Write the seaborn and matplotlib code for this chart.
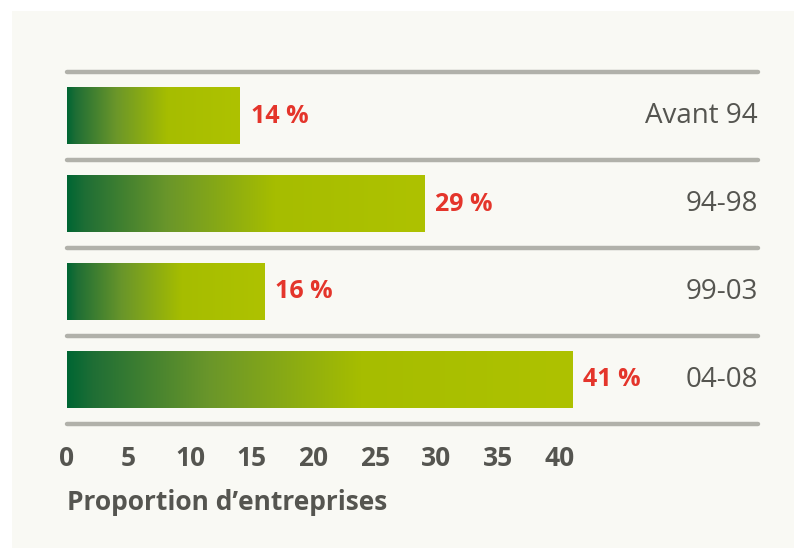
import numpy as np
import matplotlib.pyplot as plt
import seaborn as sns
from matplotlib.colors import LinearSegmentedColormap
from matplotlib.patches import Rectangle

# ---------------------------------------------------------------------------
# Data
# ---------------------------------------------------------------------------
periods = ["Avant 94", "94-98", "99-03", "04-08"]
shares = [14, 29, 16, 41]
x_ticks = [0, 5, 10, 15, 20, 25, 30, 35, 40]
x_label = "Proportion d’entreprises"

sns.set_theme(style="white")
plt.rcParams["font.family"] = ["Open Sans", "DejaVu Sans"]

panel_bg = "#f9f9f4"
rule_gray = "#b1b1aa"
text_gray = "#555550"
red = "#e4352b"

# green -> lime gradient used inside each bar
bar_cmap = LinearSegmentedColormap.from_list(
    "bar_grad",
    [(0.0, "#006633"), (0.05, "#1f6e35"), (0.28, "#6a962a"),
     (0.58, "#a6bd00"), (1.0, "#aec200")])

fig = plt.figure(figsize=(7.94, 5.48), dpi=100)
fig.patch.set_facecolor("white")
fig.patches.append(Rectangle((12 / 794, 0), 1, 537 / 548, transform=fig.transFigure,
                             facecolor=panel_bg, edgecolor="none", zorder=-10))

ax = fig.add_axes([67 / 794, 124 / 548, 691 / 794, 352 / 548])
ax.set_facecolor("none")

sns.barplot(x=shares, y=periods, orient="h", width=0.64, color="black", ax=ax)

# replace flat bars with a horizontal gradient
grad = np.linspace(0, 1, 256).reshape(1, -1)
for patch in ax.patches:
    x0, y0 = patch.get_x(), patch.get_y()
    w, h = patch.get_width(), patch.get_height()
    ax.imshow(grad, cmap=bar_cmap, aspect="auto", extent=[x0, x0 + w, y0 + h, y0],
              zorder=2, interpolation="bicubic")
    patch.set_visible(False)

ax.set_xlim(0, 56.1)
ax.set_ylim(len(periods) - 0.5, -0.5)

# grey rules between rows
for yy in np.arange(-0.5, len(periods)):
    ax.axhline(yy, color=rule_gray, lw=3.2, zorder=1, clip_on=False)

# value labels and period labels
for i, (p, v) in enumerate(zip(periods, shares)):
    ax.text(v + 0.9, i, f"{v} %", ha="left", va="center", color=red,
            fontsize=18, fontweight="bold")
    ax.text(1.0, i, p, transform=ax.get_yaxis_transform(), ha="right",
            va="center", color=text_gray, fontsize=20, fontweight="normal")

ax.set_xticks(x_ticks)
ax.set_xticklabels([str(t) for t in x_ticks])
ax.tick_params(axis="x", bottom=False, pad=9, labelsize=19, labelcolor=text_gray)
for lab in ax.get_xticklabels():
    lab.set_fontweight("bold")
ax.tick_params(axis="y", left=False, labelleft=False)
ax.set_ylabel("")
ax.set_xlabel(x_label, loc="left", fontsize=19, fontweight="bold", color=text_gray,
              labelpad=12)
for s in ax.spines.values():
    s.set_visible(False)

fig.savefig("out.png", dpi=100)
